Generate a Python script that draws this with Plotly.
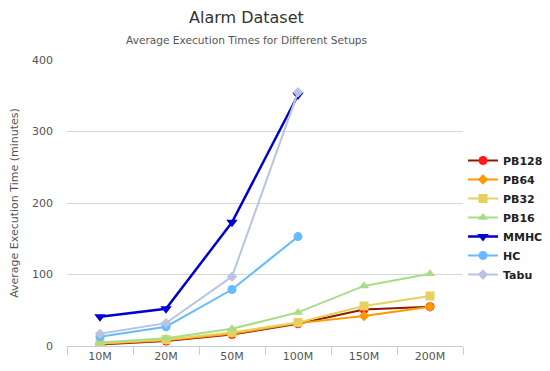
import plotly.graph_objects as go

categories = ["10M", "20M", "50M", "100M", "150M", "200M"]
pb128 = [2, 7, 16, 31, 51, 55]
pb64 = [3, 8, 17, 32, 42, 55]
pb32 = [4, 9, 19, 33, 56, 70]
pb16 = [5, 11, 24, 47, 84, 101]
mmhc = [41, 52, 173, 351]
hc = [13, 27, 79, 153]
tabu = [17, 32, 97, 355]

series = [
    ("PB128", pb128, "#ff1a1a", "#8b1a00", "circle", 9),
    ("PB64", pb64, "#ff9900", "#ff9900", "diamond", 8),
    ("PB32", pb32, "#e8d060", "#e8d060", "square", 9),
    ("PB16", pb16, "#a8dd88", "#a8dd88", "triangle-up", 9),
    ("MMHC", mmhc, "#0000cc", "#0000cc", "triangle-down", 10),
    ("HC", hc, "#66bbff", "#66bbff", "circle", 9),
    ("Tabu", tabu, "#b8c4e0", "#b8c4e0", "diamond", 8),
]

fig = go.Figure()
for name, vals, mcol, lcol, sym, sz in series:
    fig.add_trace(go.Scatter(
        x=categories[:len(vals)], y=vals, name=name, mode="lines+markers",
        line=dict(color=lcol, width=2.5 if name == "MMHC" else 2),
        marker=dict(color=mcol, symbol=sym, size=sz),
    ))

# the page body has an 8px margin, so the figure is sized/offset to compensate
W, H = 542, 363
font = "DejaVu Sans"
fig.update_layout(
    width=W, height=H,
    margin=dict(l=59, r=87, t=52, b=25, autoexpand=False),
    paper_bgcolor="white", plot_bgcolor="white",
    font=dict(family=font, color="#555555", size=11),
    showlegend=True,
    legend=dict(x=455 / W, y=1 - 138 / H, xref="container", yref="container",
                xanchor="left", yanchor="top",
                font=dict(family=font, size=11, color="#222222", weight="bold"),
                tracegroupgap=0, itemwidth=30, bgcolor="rgba(0,0,0,0)"),
    annotations=[
        dict(text="Alarm Dataset", x=0.5, y=1.150, xref="paper", yref="paper",
             xanchor="center", yanchor="middle", showarrow=False,
             font=dict(family=font, size=16, color="#333333"), xshift=-19),
        dict(text="Average Execution Times for Different Setups", x=0.5, y=1.070,
             xref="paper", yref="paper", xanchor="center", yanchor="middle",
             xshift=-19, showarrow=False,
             font=dict(family=font, size=10.6, color="#555555")),
    ],
)
fig.update_xaxes(
    type="category", categoryorder="array", categoryarray=categories,
    range=[-0.5, 5.5], tickson="boundaries", ticks="outside", ticklen=8,
    tickcolor="#c0d0e0", showline=True, linecolor="#c0d0e0", linewidth=1,
    showgrid=False, tickfont=dict(size=11, color="#555555"), automargin=False,
)
fig.update_yaxes(
    range=[0, 400], tickvals=[0, 100, 200, 300, 400], showgrid=True,
    gridcolor="#d8d8d8", zeroline=False, showline=False, automargin=False,
    tickfont=dict(size=11, color="#555555"), ticks="", ticklabelstandoff=13,
    title=dict(text="Average Execution Time (minutes)", standoff=12,
               font=dict(size=11, color="#555555")),
)
fig.write_html("out.html")
